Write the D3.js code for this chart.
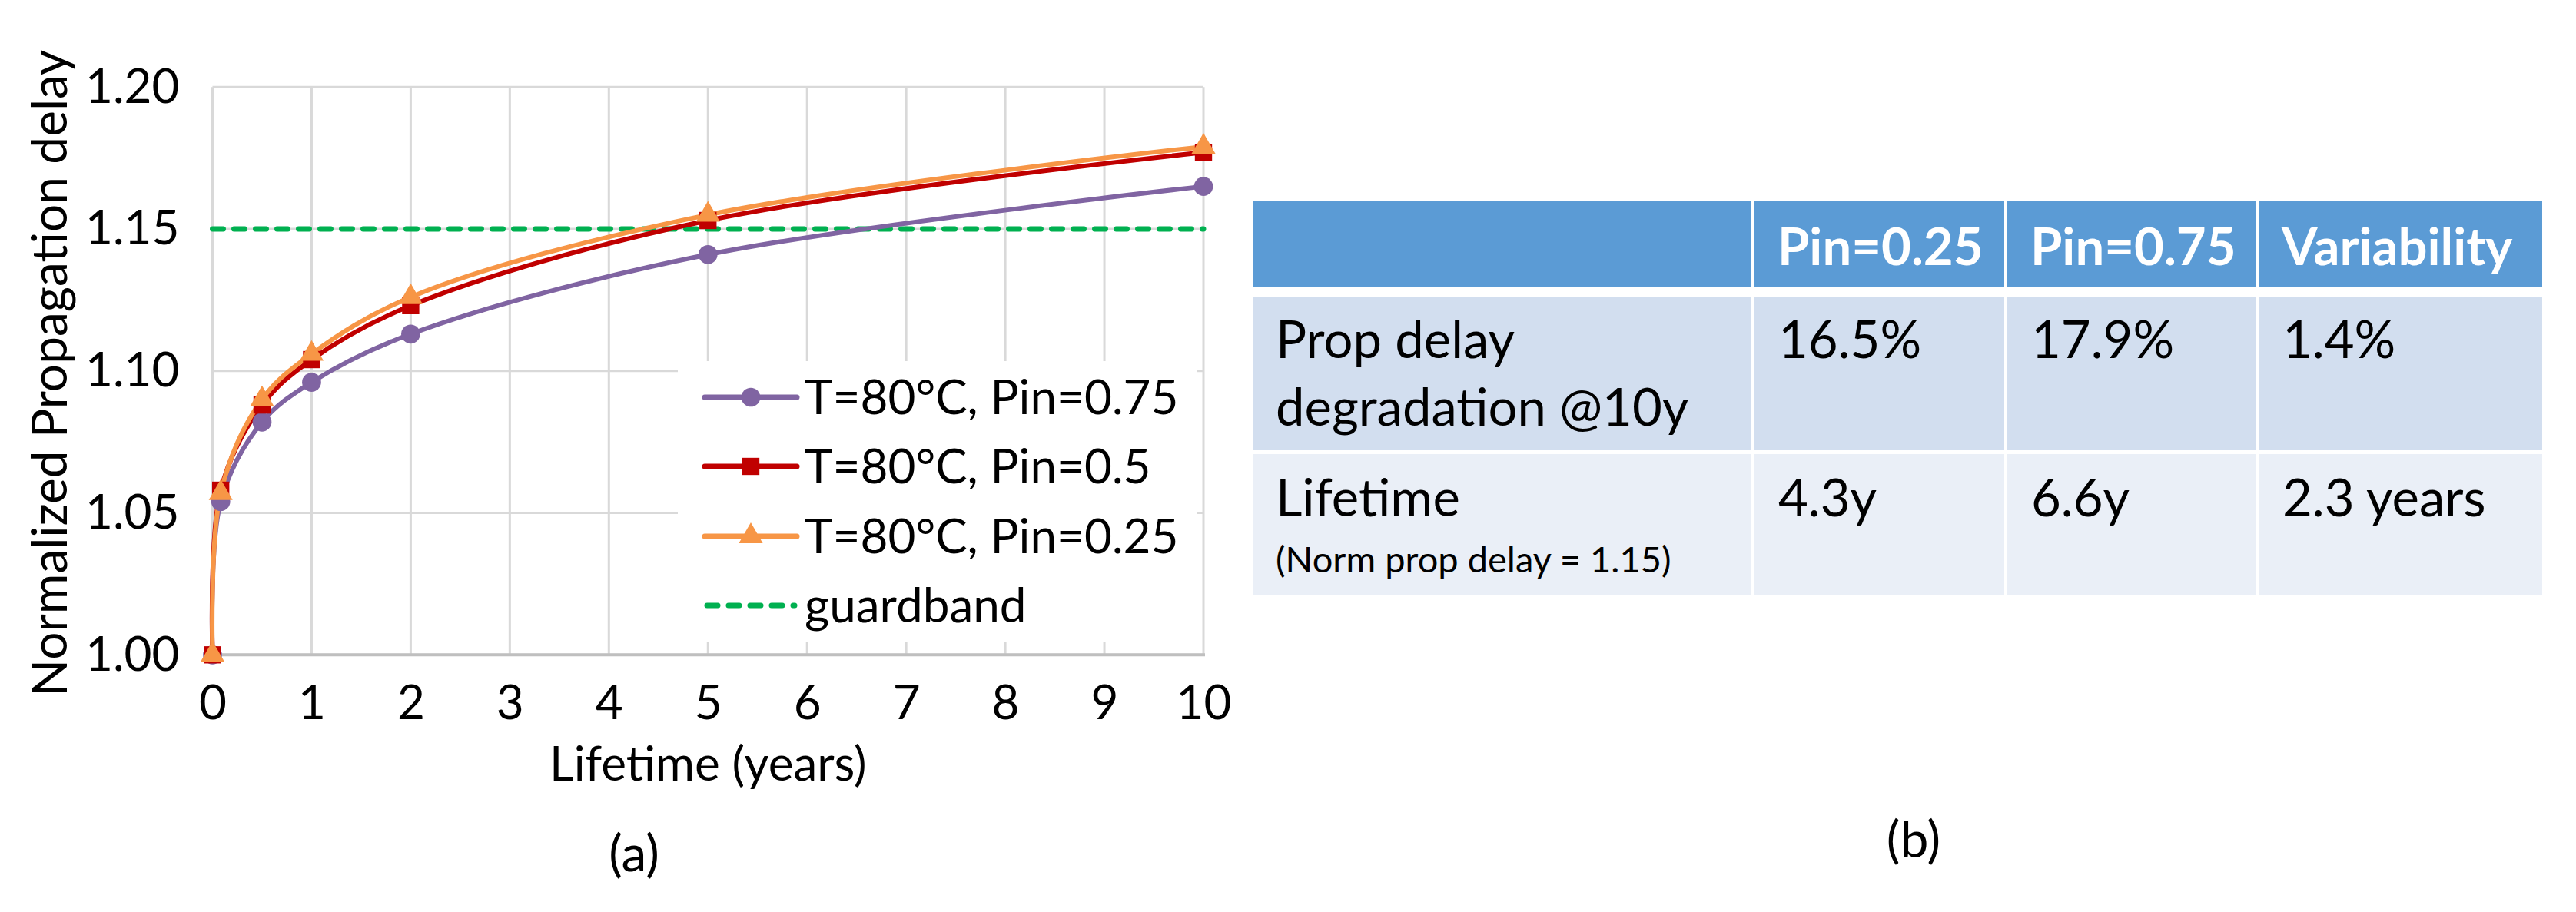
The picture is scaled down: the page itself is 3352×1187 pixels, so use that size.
<!DOCTYPE html>
<html>
<head>
<meta charset="utf-8">
<title>Propagation delay aging</title>
<script src="https://cdn.jsdelivr.net/npm/d3@7"></script>
<style>
  body { margin: 0; background: #fff; }
  text { font-family: Lato, "Open Sans", sans-serif; }
</style>
</head>
<body>
<div id="chart"></div>
<script>
// ---- data ----
var years = [0, 0.083, 0.5, 1, 2, 5, 10];
var pin075 = [1.000, 1.054, 1.082, 1.096, 1.113, 1.141, 1.165];
var pin050 = [1.000, 1.058, 1.088, 1.104, 1.123, 1.153, 1.177];
var pin025 = [1.000, 1.057, 1.090, 1.106, 1.126, 1.155, 1.179];
var guardband = 1.15;
var seriesNames = ["T=80°C, Pin=0.75", "T=80°C, Pin=0.5", "T=80°C, Pin=0.25", "guardband"];
var xTicks = [0, 1, 2, 3, 4, 5, 6, 7, 8, 9, 10];
var yTicks = [1.00, 1.05, 1.10, 1.15, 1.20];

// table (b)
var tableHeaders = ["", "Pin=0.25", "Pin=0.75", "Variability"];
var degradationLabel = ["Prop delay", "degradation @10y"];
var degradationValues = ["16.5%", "17.9%", "1.4%"];
var lifetimeLabel = ["Lifetime", "(Norm prop delay = 1.15)"];
var lifetimeValues = ["4.3y", "6.6y", "2.3 years"];

// ---- layout ----
var W = 3352, H = 1187;
var svg = d3.select("#chart").append("svg")
  .attr("width", W).attr("height", H);

var x = d3.scaleLinear().domain([0, 10]).range([276.5, 1566]);
var y = d3.scaleLinear().domain([1.0, 1.2]).range([852.3, 113.3]);

var colors = ["#8064A2", "#C00000", "#F79646"];
var green = "#00B050";

// grid
svg.append("g").selectAll("line.v")
  .data(xTicks).enter().append("line")
    .attr("x1", function(d) { return x(d); })
    .attr("x2", function(d) { return x(d); })
    .attr("y1", y(1.2)).attr("y2", y(1.0))
    .attr("stroke", "#d9d9d9").attr("stroke-width", 3);
svg.append("g").selectAll("line.h")
  .data(yTicks).enter().append("line")
    .attr("x1", x(0)).attr("x2", x(10))
    .attr("y1", function(d) { return y(d); })
    .attr("y2", function(d) { return y(d); })
    .attr("stroke", "#d9d9d9").attr("stroke-width", 3);
// bottom axis line
svg.append("line")
  .attr("x1", x(0) - 2).attr("x2", x(10) + 2)
  .attr("y1", y(1.0)).attr("y2", y(1.0))
  .attr("stroke", "#bfbfbf").attr("stroke-width", 4);

// axes labels
var xAxis = svg.append("g")
  .attr("transform", "translate(0," + y(1.0) + ")")
  .call(d3.axisBottom(x).tickValues(xTicks).tickSize(0).tickPadding(40).tickFormat(d3.format("d")));
var yAxis = svg.append("g")
  .attr("transform", "translate(" + x(0) + ",0)")
  .call(d3.axisLeft(y).tickValues(yTicks).tickSize(0).tickPadding(43).tickFormat(d3.format(".2f")));
[xAxis, yAxis].forEach(function(a) {
  a.select(".domain").remove();
  a.selectAll("text").attr("font-size", 62).attr("fill", "#000")
    .style("font-family", "Lato, sans-serif");
});

svg.append("text")
  .attr("transform", "translate(87," + ((y(1.0) + y(1.2)) / 2 + 3) + ") rotate(-90)")
  .attr("text-anchor", "middle").attr("font-size", 64)
  .text("Normalized Propagation delay");
svg.append("text")
  .attr("x", (x(0) + x(10)) / 2).attr("y", 1016)
  .attr("text-anchor", "middle").attr("font-size", 62)
  .text("Lifetime (years)");

// guardband
svg.append("line")
  .attr("x1", x(0)).attr("x2", x(10))
  .attr("y1", y(guardband)).attr("y2", y(guardband))
  .attr("stroke", green).attr("stroke-width", 7)
  .attr("stroke-dasharray", "14,14").attr("stroke-linecap", "round");

// series
var series = [pin075, pin050, pin025];
var line = d3.line()
  .x(function(d, i) { return x(years[i]); })
  .y(function(d) { return y(d); })
  .curve(d3.curveCatmullRom.alpha(0.5));

var symbols = [d3.symbolCircle, d3.symbolSquare, d3.symbolTriangle];
var symSizes = [480, 500, 420];

series.forEach(function(s, k) {
  svg.append("path").datum(s)
    .attr("d", line)
    .attr("fill", "none")
    .attr("stroke", colors[k]).attr("stroke-width", 6);
});
series.forEach(function(s, k) {
  svg.append("g").selectAll("path")
    .data(s).enter().append("path")
      .attr("transform", function(d, i) { return "translate(" + x(years[i]) + "," + y(d) + ")"; })
      .attr("d", d3.symbol().type(symbols[k]).size(symSizes[k]))
      .attr("fill", colors[k]);
});

// legend
var lg = svg.append("g");
lg.append("rect")
  .attr("x", 882).attr("y", 470).attr("width", 675).attr("height", 366)
  .attr("fill", "#fff");
var rowY = [517, 607, 698, 788];
seriesNames.forEach(function(name, k) {
  var g = lg.append("g").attr("transform", "translate(0," + rowY[k] + ")");
  var ln = g.append("line").attr("x1", 917).attr("x2", 1037).attr("y1", 0).attr("y2", 0)
    .attr("stroke-width", 7);
  if (k < 3) {
    ln.attr("stroke", colors[k]).attr("stroke-linecap", "round");
    g.append("path").attr("transform", "translate(977,0)")
      .attr("d", d3.symbol().type(symbols[k]).size(symSizes[k]))
      .attr("fill", colors[k]);
  } else {
    ln.attr("stroke", green).attr("stroke-dasharray", "14,14").attr("stroke-linecap", "round")
      .attr("x1", 920).attr("x2", 1034);
  }
  g.append("text").attr("x", 1047).attr("y", 22)
    .attr("font-size", 62).text(name);
});

svg.append("text").attr("x", 825).attr("y", 1134)
  .attr("text-anchor", "middle").attr("font-size", 66).text("(a)");

// ---- table (b) ----
var colX = [1630, 2281, 2610, 2937, 3308];
var rowTop = [262, 386, 591], rowBot = [374, 586, 774];
var fills = ["#5B9BD5", "#D2DEEF", "#EAEFF7"];
var tb = svg.append("g");
[0, 1, 2].forEach(function(r) {
  tb.selectAll(null).data([0, 1, 2, 3]).enter().append("rect")
    .attr("x", function(c) { return colX[c] + (c > 0 ? 2 : 0); })
    .attr("width", function(c) { return colX[c + 1] - colX[c] - (c > 0 ? 2 : 0) - (c < 3 ? 2 : 0); })
    .attr("y", rowTop[r]).attr("height", rowBot[r] - rowTop[r])
    .attr("fill", fills[r]);
});
tb.selectAll(null).data(tableHeaders).enter().append("text")
  .attr("x", function(d, c) { return colX[c] + 32; })
  .attr("y", 345).attr("font-size", 67).attr("font-weight", "bold")
  .attr("fill", "#fff").text(function(d) { return d; });

tb.append("text").attr("x", 1660).attr("y", 466).attr("font-size", 67).text(degradationLabel[0]);
tb.append("text").attr("x", 1660).attr("y", 554).attr("font-size", 67).text(degradationLabel[1]);
tb.selectAll(null).data(degradationValues).enter().append("text")
  .attr("x", function(d, c) { return colX[c + 1] + 33; })
  .attr("y", 466).attr("font-size", 67).text(function(d) { return d; });

tb.append("text").attr("x", 1660).attr("y", 672).attr("font-size", 67).text(lifetimeLabel[0]);
tb.append("text").attr("x", 1660).attr("y", 745).attr("font-size", 47).text(lifetimeLabel[1]);
tb.selectAll(null).data(lifetimeValues).enter().append("text")
  .attr("x", function(d, c) { return colX[c + 1] + 33; })
  .attr("y", 672).attr("font-size", 67).text(function(d) { return d; });

svg.append("text").attr("x", 2490).attr("y", 1116)
  .attr("text-anchor", "middle").attr("font-size", 66).text("(b)");
</script>
</body>
</html>
